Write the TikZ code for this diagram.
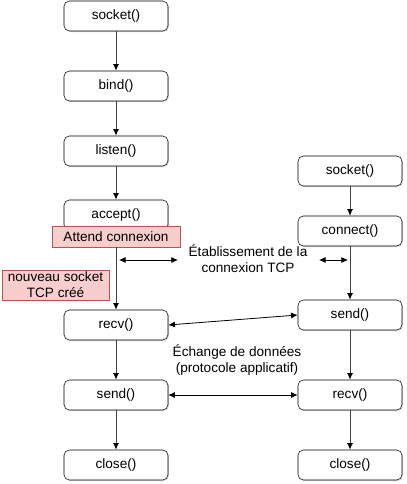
\documentclass[tikz,border=0pt]{standalone}
\usepackage{fontspec}
\setmainfont{Liberation Sans}
\usetikzlibrary{arrows.meta,shadows}
\definecolor{redline}{HTML}{B85450}
\definecolor{redfill}{HTML}{F8CECC}
\begin{document}
\begin{tikzpicture}[x=0.75pt,y=-0.75pt,font=\fontsize{10.2pt}{12pt}\selectfont]
    \useasboundingbox (0,0) rectangle (406,484);
    \begin{scope}[every node/.style={rectangle,rounded corners=4pt,draw,fill=white,
        minimum width=78pt,minimum height=22.5pt,
        drop shadow={shadow xshift=0.8pt,shadow yshift=-0.8pt,opacity=0.3}}]
      \node (ssock) at (116,16) {socket()};
      \node (sbind) at (116,86) {bind()};
      \node (slisten) at (116,151) {listen()};
      \node (saccept) at (116,215) {accept()};
      \node (srecv) at (116,325) {recv()};
      \node (ssend) at (116,395) {send()};
      \node (sclose) at (116,465) {close()};
      \node (csock) at (350,171) {socket()};
      \node (cconnect) at (350,231) {connect()};
      \node (csend) at (350,315) {send()};
      \node (crecv) at (350,395) {recv()};
      \node (cclose) at (350,465) {close()};
    \end{scope}
    \begin{scope}[every node/.style={rectangle,draw=redline,fill=redfill,inner sep=1pt,
        drop shadow={shadow xshift=0.8pt,shadow yshift=-0.8pt,opacity=0.3}}]
      \node[minimum width=96pt,minimum height=15.75pt] (attend) at (116,236.5) {Attend connexion};
      \node[minimum width=80pt,minimum height=22.5pt,align=center] (nouveau) at (55.5,285)
        {nouveau socket\\TCP créé};
    \end{scope}
    \node[align=center] (etab) at (248,259) {Établissement de la\\connexion TCP};
    \node[align=center] (echange) at (237,360) {Échange de données\\(protocole applicatif)};
    \coordinate (ea1) at (119,260);
    \coordinate (ea2) at (178,260);
    \coordinate (eb1) at (319,260);
    \coordinate (eb2) at (348,260);
    \begin{scope}[every edge/.style={draw=black!75,line width=0.75pt,-{Latex[black,length=5pt,width=4.5pt]}}]
      \path (ssock) edge (sbind);
      \path (sbind) edge (slisten);
      \path (slisten) edge (saccept);
      \path (attend) edge (srecv);
      \path (srecv) edge (ssend);
      \path (ssend) edge (sclose);
      \path (csock) edge (cconnect);
      \path (cconnect) edge (csend);
      \path (csend) edge (crecv);
      \path (crecv) edge (cclose);
    \end{scope}
    \begin{scope}[every edge/.style={draw=black,line width=0.6pt,{Latex[length=5pt,width=4.5pt]}-{Latex[length=5pt,width=4.5pt]}}]
      \path (ea1) edge (ea2);
      \path (eb1) edge (eb2);
      \path (srecv.east) edge (csend.west);
      \path (ssend) edge (crecv);
    \end{scope}
  \end{tikzpicture}
\end{document}
